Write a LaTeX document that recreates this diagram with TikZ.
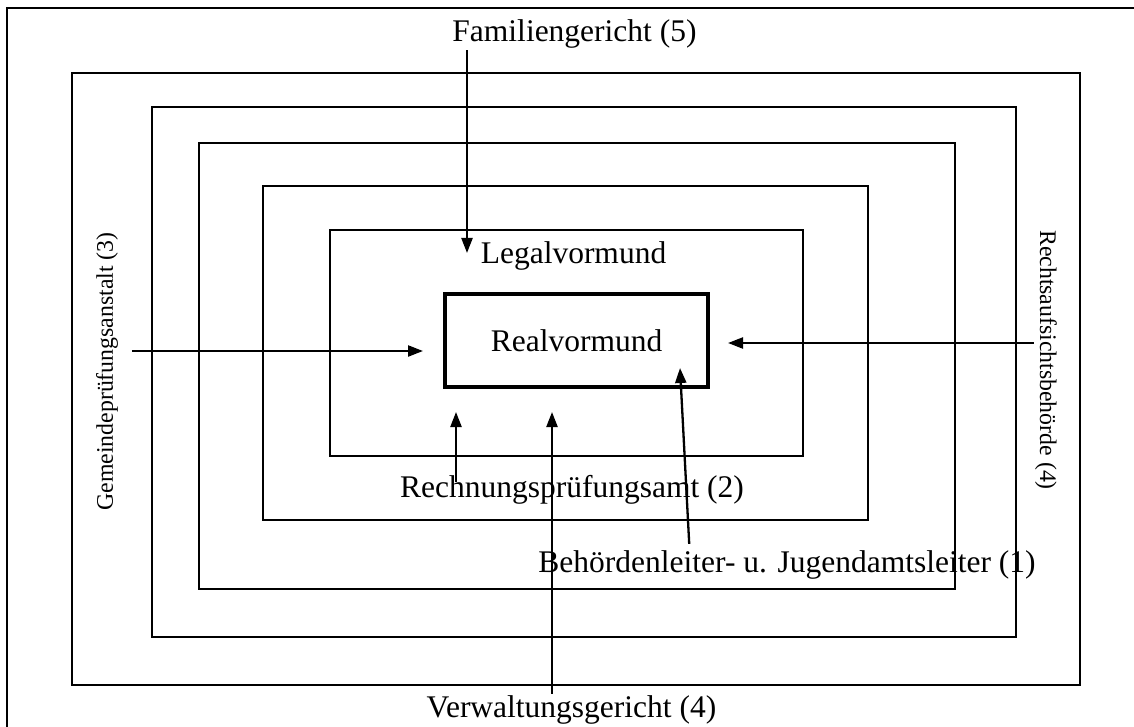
\documentclass[tikz,border=0pt]{standalone}
\usepackage{fontspec}
\setmainfont{Liberation Serif}
\usetikzlibrary{calc,arrows.meta}

\tikzset{
    labeltext/.style={font=\fontsize{31.5}{36}\selectfont, inner sep=0pt, anchor=base},
    sidetext/.style={font=\fontsize{23.8}{28}\selectfont, inner sep=0pt},
    pfeil/.style={-{Triangle[length=15pt,width=11pt]}, line width=2.3pt},
}

\begin{document}
\begin{tikzpicture}[x=1pt, y=-1pt, line width=2.5pt]
        \useasboundingbox (0,0) rectangle (1134,727);

        % Outer frame (cut off at right and bottom)
        \draw (7,727) -- (7,8) -- (1134,8);

        % Nested boxes
        \foreach \xa/\ya/\xb/\yb in {72/73/1080/685, 152/107/1016/637, 199/143/955/589, 263/186/868/520, 330/230/803/456}
            \draw (\xa,\ya) rectangle (\xb,\yb);

        % Innermost box
        \node[draw, line width=4.8pt, minimum width=263pt, minimum height=93pt, inner sep=0pt,
              font=\fontsize{31.5}{36}\selectfont] (real) at (576.5,340.5) {Realvormund};

        % Labels
        \node[labeltext] (fam) at (574.5,42) {Familiengericht (5)};
        \node[labeltext] (legal) at (573.5,263) {Legalvormund};
        \node[labeltext] (rpa) at (572,497) {Rechnungsprüfungsamt (2)};
        \node[labeltext] (beh) at (787,572) {Behördenleiter- u. Jugendamtsleiter (1)};
        \node[labeltext] (verw) at (571.5,717) {Verwaltungsgericht (4)};
        \node[sidetext, rotate=90, outer sep=14pt] (gem) at (107,371.5) {Gemeindeprüfungsanstalt (3)};
        \node[sidetext, rotate=-90] (recht) at (1046,360) {Rechtsaufsichtsbehörde (4)};

        % Arrow tips
        \coordinate (famtip) at (467,253);
        \coordinate (gemtip) at (423,351);
        \coordinate (rechttip) at (728,343);
        \coordinate (rpatip) at (456,412);
        \coordinate (verwtip) at (552,412);
        \coordinate (behtip) at (680,368);

        % Arrows
        \draw[pfeil] (fam.south -| famtip) -- (famtip);
        \draw[pfeil] (gem.south |- gemtip) -- (gemtip);
        \draw[pfeil] (recht.south |- rechttip) -- (rechttip);
        \draw[pfeil] ($(rpa.north -| rpatip)+(0,8)$) -- (rpatip);
        \draw[pfeil] (verw.north -| verwtip) -- (verwtip);
        \draw[pfeil] ($(beh.north west)+(152,-5)$) -- (behtip);
\end{tikzpicture}
\end{document}
